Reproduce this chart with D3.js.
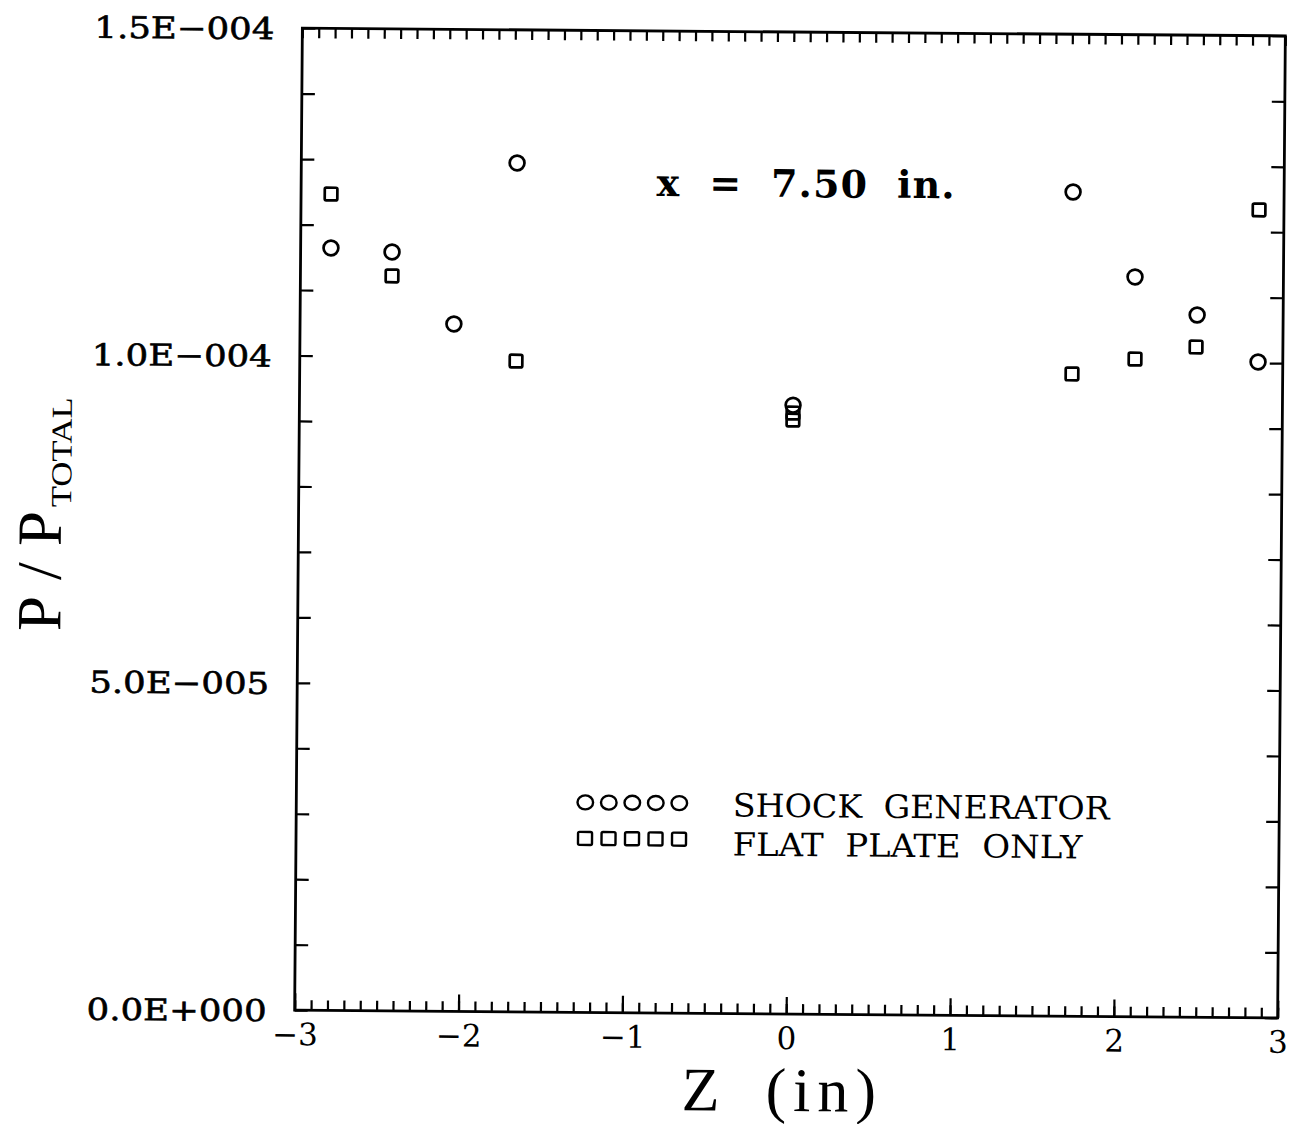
<!DOCTYPE html>
<html>
<head>
<meta charset="utf-8">
<script src="https://cdn.jsdelivr.net/npm/d3@7"></script>
<style>
  html, body { margin: 0; padding: 0; background: #fff; }
  svg { display: block; }
  text { fill: #000; }
</style>
</head>
<body>
<script>
// Static pressure ratio across the span at x = 7.50 in.
const shockZ = [-2.815, -2.442, -2.061, -1.683, 0.013, 1.712, 2.094, 2.475, 2.849];
const shockP = [1.1646e-4, 1.1592e-4, 1.050e-4, 1.2967e-4, 0.930e-4, 1.259e-4, 1.130e-4, 1.0726e-4, 1.0016e-4];

const plateZ = [-2.817, -2.441, -1.680, 0.013, 0.013, 1.714, 2.098, 2.470, 2.848];
const plateP = [1.247e-4, 1.1226e-4, 0.9941e-4, 0.918e-4, 0.9073e-4, 0.981e-4, 1.0046e-4, 1.0237e-4, 1.2338e-4];

const xTickValues = [-3, -2, -1, 0, 1, 2, 3];
const xTickLabels = ["\u22123", "\u22122", "\u22121", "0", "1", "2", "3"];
const yTickValues = [0, 5e-5, 1e-4, 1.5e-4];
const yTickLabels = ["0.0E+000", "5.0E\u2212005", "1.0E\u2212004", "1.5E\u2212004"];

const seriesNames = ["SHOCK  GENERATOR", "FLAT  PLATE  ONLY"];
const annotation = "x  =  7.50  in.";

const W = 1295, H = 1124;
const plotL = 298.5, plotR = 1281.5, plotT = 32, plotB = 1014;

const x = d3.scaleLinear().domain([-3, 3]).range([plotL, plotR]);
const y = d3.scaleLinear().domain([0, 1.5e-4]).range([plotB, plotT]);

const svg = d3.select("body").append("svg").attr("width", W).attr("height", H);
svg.append("rect").attr("width", W).attr("height", H).attr("fill", "#fff");

// the printed sheet sits slightly turned on the page
const g = svg.append("g").attr("transform", "rotate(0.45,790,523)");

const tickStyle = sel => {
  sel.select(".domain").remove();
  sel.selectAll(".tick line").attr("stroke", "#000").attr("stroke-width", 2.2);
};

const minorX = d3.range(-30, 31).map(i => i / 10);
const minorY = d3.range(0, 16).map(i => i * 1e-5);

// bottom: minor and integer ticks pointing inward
g.append("g").attr("transform", `translate(0,${plotB})`)
  .call(d3.axisBottom(x).tickValues(minorX).tickSize(-10).tickFormat(""))
  .call(tickStyle);
g.append("g").attr("transform", `translate(0,${plotB})`)
  .call(d3.axisBottom(x).tickValues(xTickValues).tickSize(-17).tickFormat(""))
  .call(tickStyle);

// top ticks
g.append("g").attr("transform", `translate(0,${plotT})`)
  .call(d3.axisTop(x).tickValues(minorX).tickSize(-10).tickFormat(""))
  .call(tickStyle);

// left and right ticks
g.append("g").attr("transform", `translate(${plotL},0)`)
  .call(d3.axisLeft(y).tickValues(minorY).tickSize(-13).tickFormat(""))
  .call(tickStyle);
g.append("g").attr("transform", `translate(${plotR},0)`)
  .call(d3.axisRight(y).tickValues(minorY).tickSize(-13).tickFormat(""))
  .call(tickStyle);

// x tick labels
const xLab = g.append("g").attr("transform", `translate(0,${plotB})`)
  .call(d3.axisBottom(x).tickValues(xTickValues).tickSize(0).tickPadding(0)
    .tickFormat((d, i) => xTickLabels[i]));
xLab.select(".domain").remove();
xLab.selectAll(".tick text")
  .attr("y", 35).attr("dy", null)
  .attr("font-family", "DejaVu Serif").attr("font-size", 31)
  .attr("fill", "#000");

// y tick labels
const yLab = g.append("g").attr("transform", `translate(${plotL},0)`)
  .call(d3.axisLeft(y).tickValues(yTickValues).tickSize(0).tickPadding(0)
    .tickFormat((d, i) => yTickLabels[i]));
yLab.select(".domain").remove();
yLab.selectAll(".tick text")
  .attr("x", -28).attr("dy", "0.36em")
  .attr("font-family", "DejaVu Serif").attr("font-size", 30)
  .attr("textLength", 180).attr("lengthAdjust", "spacingAndGlyphs")
  .attr("stroke", "#000").attr("stroke-width", 0.6)
  .attr("fill", "#000");

// plot frame
g.append("rect")
  .attr("x", plotL).attr("y", plotT)
  .attr("width", plotR - plotL).attr("height", plotB - plotT)
  .attr("fill", "none").attr("stroke", "#000").attr("stroke-width", 2.8);

// axis titles
const xTitle = g.append("text")
  .attr("y", 1111)
  .attr("font-family", "Liberation Serif").attr("font-size", 62);
xTitle.append("tspan").attr("x", 686).text("Z");
xTitle.append("tspan").attr("x", 770)
  .attr("letter-spacing", 7)
  .text("(in)");

g.append("text")
  .attr("transform", "translate(61,637) rotate(-90)")
  .attr("font-family", "Liberation Serif").attr("font-size", 63)
  .attr("textLength", 120).attr("lengthAdjust", "spacing")
  .text("P/P");
g.append("text")
  .attr("transform", "translate(71,513) rotate(-90)")
  .attr("font-family", "Liberation Serif").attr("font-size", 29)
  .attr("textLength", 110).attr("lengthAdjust", "spacingAndGlyphs")
  .text("TOTAL");

// station annotation
g.append("text")
  .attr("x", 654).attr("y", 197)
  .attr("font-family", "DejaVu Serif").attr("font-weight", "bold").attr("font-size", 38)
  .attr("textLength", 298).attr("lengthAdjust", "spacing")
  .style("white-space", "pre")
  .text(annotation);

// markers
const R = 7.4, S = 12.6, SW = 2.7;
const shock = shockZ.map((z, i) => ({ z, p: shockP[i] }));
const plate = plateZ.map((z, i) => ({ z, p: plateP[i] }));

g.append("g").selectAll("circle").data(shock).join("circle")
  .attr("cx", d => x(d.z)).attr("cy", d => y(d.p)).attr("r", R)
  .attr("fill", "none").attr("stroke", "#000").attr("stroke-width", SW);

g.append("g").selectAll("rect").data(plate).join("rect")
  .attr("x", d => x(d.z) - S / 2).attr("y", d => y(d.p) - S / 2)
  .attr("width", S).attr("height", S).attr("rx", 1.5)
  .attr("fill", "none").attr("stroke", "#000").attr("stroke-width", SW);

// legend
const legX0 = 587.5, legStep = 23.5;
const legRows = [804, 840];
const legBase = [817, 856];
const legend = g.append("g");
d3.range(5).forEach(k => {
  legend.append("ellipse")
    .attr("cx", legX0 + k * legStep).attr("cy", legRows[0])
    .attr("rx", 7.8).attr("ry", 7)
    .attr("fill", "none").attr("stroke", "#000").attr("stroke-width", 2.4);
  legend.append("rect")
    .attr("x", legX0 + k * legStep - 7).attr("y", legRows[1] - 6.5)
    .attr("width", 14).attr("height", 13).attr("rx", 1.5)
    .attr("fill", "none").attr("stroke", "#000").attr("stroke-width", 2.4);
});
legend.selectAll("text").data(seriesNames).join("text")
  .attr("x", 735).attr("y", (d, i) => legBase[i])
  .attr("font-family", "DejaVu Serif").attr("font-size", 32)
  .attr("textLength", (d, i) => i === 0 ? 377 : 350)
  .attr("lengthAdjust", "spacingAndGlyphs")
  .style("white-space", "pre")
  .text(d => d);
</script>
</body>
</html>
